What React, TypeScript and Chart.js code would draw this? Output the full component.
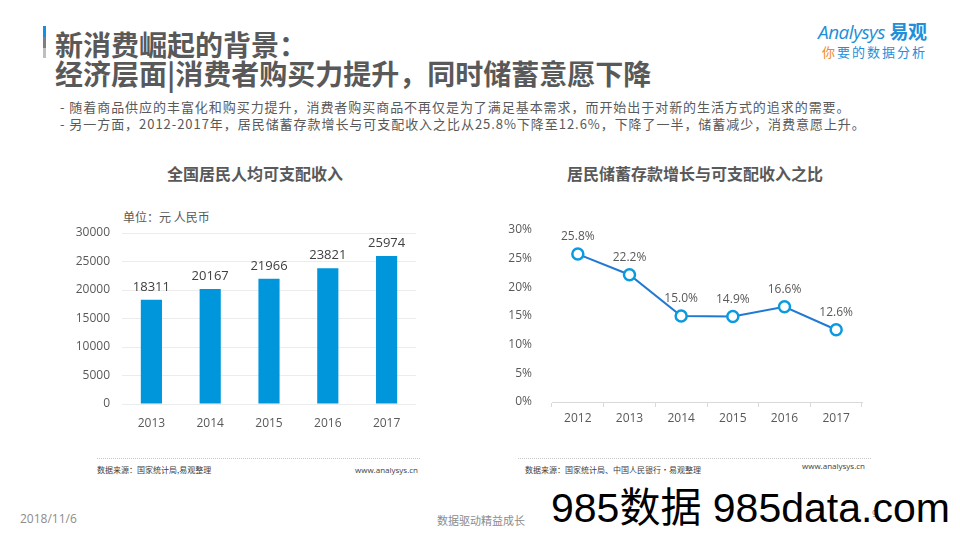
import React, { useEffect, useRef } from "react";
import { Chart, registerables } from "chart.js";

Chart.register(...registerables);

const incomeYears = ["2013", "2014", "2015", "2016", "2017"];
const incomeValues = [18311, 20167, 21966, 23821, 25974];
const incomeTicks = [0, 5000, 10000, 15000, 20000, 25000, 30000];

const ratioYears = ["2012", "2013", "2014", "2015", "2016", "2017"];
const ratioValues = [25.8, 22.2, 15.0, 14.9, 16.6, 12.6];
const ratioTicks = [0, 5, 10, 15, 20, 25, 30];

const FONT = '"Open Sans", "Noto Sans CJK SC", sans-serif';
const CJK = '"Noto Sans CJK SC", "Open Sans", sans-serif';

const valueLabels = {
  id: "valueLabels",
  afterDatasetsDraw(chart: any, _args: any, opts: any) {
    const ctx = chart.ctx;
    chart.data.datasets.forEach((ds: any, i: number) => {
      const meta = chart.getDatasetMeta(i);
      meta.data.forEach((el: any, j: number) => {
        const v = ds.data[j];
        ctx.save();
        ctx.font = opts.font;
        ctx.fillStyle = opts.color;
        ctx.textAlign = "center";
        ctx.textBaseline = "alphabetic";
        ctx.fillText(opts.format(v), el.x, el.y - opts.offset);
        ctx.restore();
      });
    });
  },
};

function BarChart() {
  const ref = useRef<HTMLCanvasElement>(null);
  useEffect(() => {
    const chart = new Chart(ref.current!, {
      type: "bar",
      data: {
        labels: incomeYears,
        datasets: [
          {
            data: incomeValues,
            backgroundColor: "#0096DB",
            barPercentage: 0.36,
            categoryPercentage: 1,
          },
        ],
      },
      plugins: [valueLabels as any],
      options: {
        animation: false,
        responsive: false,
        maintainAspectRatio: false,
        layout: { padding: { top: 32, right: 6, left: 0, bottom: 0 } },
        plugins: {
          legend: { display: false },
          tooltip: { enabled: false },
          valueLabels: {
            font: `13px ${FONT}`,
            color: "#404040",
            offset: 9,
            format: (v: number) => String(v),
          },
        } as any,
        scales: {
          x: {
            grid: { display: false },
            border: { display: false },
            ticks: { color: "#595959", font: { family: FONT, size: 12 }, padding: 4 },
            afterFit: (s: any) => {
              s.height = 30;
            },
          },
          y: {
            min: 0,
            max: 30000,
            afterBuildTicks: (s: any) => {
              s.ticks = incomeTicks.map((v) => ({ value: v }));
            },
            grid: { color: "#ececec", drawTicks: false },
            border: { display: false },
            ticks: {
              color: "#595959",
              font: { family: FONT, size: 12 },
              padding: 12,
              callback: (v: any) => String(v),
            },
            afterFit: (s: any) => {
              s.width = 60;
            },
          },
        },
      },
    });
    return () => chart.destroy();
  }, []);
  return (
    <canvas
      ref={ref}
      width={360}
      height={233}
      style={{ position: "absolute", left: 62, top: 201, width: 360, height: 233 }}
    />
  );
}

function LineChart() {
  const ref = useRef<HTMLCanvasElement>(null);
  useEffect(() => {
    const chart = new Chart(ref.current!, {
      type: "line",
      data: {
        labels: ratioYears,
        datasets: [
          {
            data: ratioValues,
            borderColor: "#2279D3",
            borderWidth: 2,
            pointRadius: 5.5,
            pointBorderWidth: 2.5,
            pointBackgroundColor: "#ffffff",
            pointBorderColor: "#0A9AE0",
            tension: 0,
          },
        ],
      },
      plugins: [valueLabels as any],
      options: {
        animation: false,
        responsive: false,
        maintainAspectRatio: false,
        layout: { padding: { top: 30, right: 3, left: 0, bottom: 0 } },
        plugins: {
          legend: { display: false },
          tooltip: { enabled: false },
          valueLabels: {
            font: `12px ${FONT}`,
            color: "#595959",
            offset: 14,
            format: (v: number) => v.toFixed(1) + "%",
          },
        } as any,
        scales: {
          x: {
            offset: true,
            grid: {
              display: true,
              drawOnChartArea: false,
              offset: true,
              tickLength: 5,
              color: "#d9d9d9",
            },
            border: { display: true, color: "#d9d9d9" },
            ticks: { color: "#595959", font: { family: FONT, size: 12 }, padding: 4 },
            afterFit: (s: any) => {
              s.height = 32;
            },
          },
          y: {
            min: 0,
            max: 30,
            afterBuildTicks: (s: any) => {
              s.ticks = ratioTicks.map((v) => ({ value: v }));
            },
            grid: { display: false },
            border: { display: false },
            ticks: {
              color: "#595959",
              font: { family: FONT, size: 12 },
              padding: 12,
              callback: (v: any) => v + "%",
            },
            afterFit: (s: any) => {
              s.width = 62;
            },
          },
        },
      },
    });
    return () => chart.destroy();
  }, []);
  return (
    <canvas
      ref={ref}
      width={380}
      height={234}
      style={{ position: "absolute", left: 490, top: 200, width: 380, height: 234 }}
    />
  );
}

const abs = (s: React.CSSProperties): React.CSSProperties => ({
  position: "absolute",
  whiteSpace: "nowrap",
  margin: 0,
  ...s,
});

export default function App() {
  return (
    <div
      style={{
        position: "fixed",
        left: 0,
        top: 0,
        width: 960,
        height: 540,
        background: "#ffffff",
        overflow: "hidden",
        fontFamily: CJK,
      }}
    >
      {/* title marker */}
      <div style={abs({ left: 43, top: 26, width: 3, height: 11, background: "#1A8FE0" })} />
      <div style={abs({ left: 43, top: 37, width: 3, height: 11, background: "#7f7f7f" })} />
      <div style={abs({ left: 43, top: 48, width: 3, height: 10, background: "#bfbfbf" })} />
      <div
        style={abs({
          left: 55,
          top: 30,
          fontSize: 28,
          fontWeight: 700,
          color: "#595959",
          lineHeight: "29px",
        })}
      >
        新消费崛起的背景：
        <br />
        经济层面|消费者购买力提升，同时储蓄意愿下降
      </div>

      {/* logo */}
      <div
        style={abs({
          left: 818,
          top: 20,
          fontSize: 19,
          fontWeight: 700,
          color: "#1E8FD8",
          fontFamily: FONT,
          letterSpacing: -0.5,
          lineHeight: "24px",
        })}
      >
        <span style={{ fontStyle: "italic", fontWeight: 400 }}>Analysys</span> 易观
      </div>
      <div style={abs({ left: 822, top: 44, fontSize: 13, color: "#1E8FD8", lineHeight: "16px", letterSpacing: 2 })}>
        <span style={{ color: "#F08A24" }}>你</span>要的数据分析
      </div>

      {/* bullets */}
      <div style={abs({ left: 60, top: 98, fontSize: 13, color: "#595959", lineHeight: "17px", letterSpacing: 0.95 })}>
        - 随着商品供应的丰富化和购买力提升，消费者购买商品不再仅是为了满足基本需求，而开始出于对新的生活方式的追求的需要。
        <br />
        - 另一方面，2012-2017年，居民储蓄存款增长与可支配收入之比从25.8%下降至12.6%，下降了一半，储蓄减少，消费意愿上升。
      </div>

      {/* chart titles */}
      <div
        style={abs({ left: 80, width: 350, top: 162, textAlign: "center", fontSize: 16, fontWeight: 700, color: "#595959", lineHeight: "22px" })}
      >
        全国居民人均可支配收入
      </div>
      <div
        style={abs({ left: 520, width: 350, top: 162, textAlign: "center", fontSize: 16, fontWeight: 700, color: "#595959", lineHeight: "22px" })}
      >
        居民储蓄存款增长与可支配收入之比
      </div>
      <div style={abs({ left: 123, top: 208, fontSize: 12, color: "#595959", lineHeight: "18px" })}>单位：元 人民币</div>

      <BarChart />
      <LineChart />

      {/* sources */}
      <div style={abs({ left: 97, top: 458, width: 323, borderTop: "1px dotted #c8c8c8" })} />
      <div style={abs({ left: 97, top: 464, fontSize: 8, color: "#404040", lineHeight: "12px" })}>数据来源：国家统计局,易观整理</div>
      <div style={abs({ left: 355, top: 464, fontSize: 8, color: "#404040", lineHeight: "12px", fontFamily: FONT })}>
        www.analysys.cn
      </div>
      <div style={abs({ left: 518, top: 458, width: 353, borderTop: "1px dotted #c8c8c8" })} />
      <div style={abs({ left: 525, top: 464, fontSize: 8, color: "#404040", lineHeight: "12px" })}>
        数据来源：国家统计局、中国人民银行·易观整理
      </div>
      <div style={abs({ left: 802, top: 460, fontSize: 8, color: "#404040", lineHeight: "12px", fontFamily: FONT })}>
        www.analysys.cn
      </div>

      {/* footer */}
      <div style={abs({ left: 20, top: 511, fontSize: 12, color: "#8c8c8c", lineHeight: "16px", fontFamily: FONT })}>2018/11/6</div>
      <div style={abs({ left: 437, top: 512, fontSize: 11, color: "#8c8c8c", lineHeight: "16px" })}>数据驱动精益成长</div>
      <div style={abs({ left: 872, top: 508, fontSize: 9, color: "#8c8c8c", lineHeight: "12px", fontFamily: FONT })}>9</div>
      <div
        style={abs({
          left: 551,
          top: 484,
          fontSize: 41,
          color: "#000000",
          lineHeight: "48px",
          fontFamily: '"Liberation Sans", "Noto Sans CJK SC", sans-serif',
        })}
      >
        985数据 985data.com
      </div>
    </div>
  );
}
